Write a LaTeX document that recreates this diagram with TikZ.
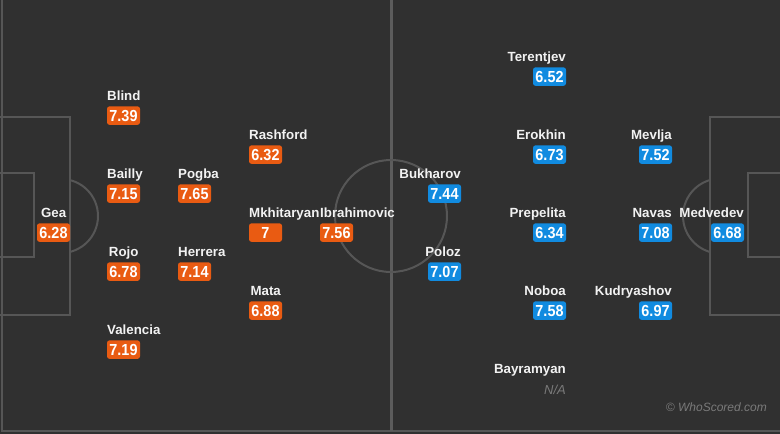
\documentclass[tikz,border=0pt]{standalone}
\usepackage{fontspec}
\setmainfont{Liberation Sans}
\newfontfamily\scorefont[FakeStretch=0.9]{Liberation Sans}
\definecolor{bg}{HTML}{303030}
\definecolor{pline}{HTML}{565656}
\definecolor{hline}{HTML}{5C5C5C}
\definecolor{mu}{HTML}{E95B12}
\definecolor{ru}{HTML}{118BE0}
\definecolor{nametxt}{HTML}{F2F2F2}
\definecolor{faint}{HTML}{7A7A7A}
\tikzset{
  pitch/.style={draw=pline, line width=2pt},
  pname/.style={text=nametxt, font=\fontsize{13.3pt}{15pt}\selectfont\bfseries, inner sep=0pt, minimum width=33pt},
  sbox/.style={text=white, font=\fontsize{16pt}{18pt}\scorefont\bfseries, inner sep=0pt, minimum width=33pt, minimum height=18.5pt, rounded corners=2.5pt},
  lbox/.style={sbox, fill=mu},
  rbox/.style={sbox, fill=ru},
}
% left team: id, name, box left x, row, score
\newcommand\lplayer[5]{%
  \pgfmathsetmacro\yb{61.7+39*#4}%
  \node[pname, anchor=base west] (#1n) at (#3,\yb) {#2};
  \node[lbox] (#1) at (#3+16.5,\yb+14.9) {#5};
}
% right team: id, name, box right x, row, score
\newcommand\rplayer[5]{%
  \pgfmathsetmacro\yb{61.7+39*#4}%
  \node[pname, anchor=base east] (#1n) at (#3,\yb) {#2};
  \node[rbox] (#1) at (#3-16.5,\yb+14.9) {#5};
}
\begin{document}
\begin{tikzpicture}[x=1pt, y=-1pt]
\useasboundingbox (0,0) rectangle (780,434);
\fill[bg] (0,0) rectangle (780,434);
% pitch markings
\draw[pitch] (1.5,-5) -- (1.5,430.5) -- (785,430.5);
\draw[draw=hline, line width=3pt] (391,-5) -- (391,430.5);
\draw[pitch] (391,216) circle[radius=56];
\draw[pitch] (-5,117) rectangle (70,315);
\draw[pitch] (-5,173) rectangle (34,257);
\draw[pitch] (785,117) rectangle (710,315);
\draw[pitch] (785,173) rectangle (748,257);
\begin{scope}
  \clip (70,100) rectangle (150,330);
  \draw[pitch] (61,216) circle[radius=37];
\end{scope}
\begin{scope}
  \clip (710,100) rectangle (630,330);
  \draw[pitch] (720.5,216) circle[radius=37.5];
\end{scope}
% Manchester United
\lplayer{gea}{Gea}{37}{4}{6.28}
\lplayer{blind}{Blind}{107}{1}{7.39}
\lplayer{bailly}{Bailly}{107}{3}{7.15}
\lplayer{rojo}{Rojo}{107}{5}{6.78}
\lplayer{valencia}{Valencia}{107}{7}{7.19}
\lplayer{pogba}{Pogba}{178}{3}{7.65}
\lplayer{herrera}{Herrera}{178}{5}{7.14}
\lplayer{rashford}{Rashford}{249}{2}{6.32}
\lplayer{mkhitaryan}{Mkhitaryan}{249}{4}{7}
\lplayer{mata}{Mata}{249}{6}{6.88}
\lplayer{ibrahimovic}{Ibrahimovic}{320}{4}{7.56}
% Rostov
\rplayer{bukharov}{Bukharov}{461}{3}{7.44}
\rplayer{poloz}{Poloz}{461}{5}{7.07}
\rplayer{terentjev}{Terentjev}{566}{0}{6.52}
\rplayer{erokhin}{Erokhin}{566}{2}{6.73}
\rplayer{prepelita}{Prepelita}{566}{4}{6.34}
\rplayer{noboa}{Noboa}{566}{6}{7.58}
\rplayer{mevlja}{Mevlja}{672}{2}{7.52}
\rplayer{navas}{Navas}{672}{4}{7.08}
\rplayer{kudryashov}{Kudryashov}{672}{6}{6.97}
\rplayer{medvedev}{Medvedev}{744}{4}{6.68}
\node[pname, anchor=base east] (bayramyann) at (566,373.7) {Bayramyan};
\node[text=faint, font=\fontsize{13pt}{15pt}\selectfont\itshape, inner sep=0pt, anchor=base east] (bayramyan) at (566,394.5) {N/A};
\node[text=faint, font=\fontsize{12pt}{14pt}\selectfont\itshape, inner sep=0pt, anchor=base east] (copy) at (767,411) {© WhoScored.com};
\end{tikzpicture}
\end{document}
